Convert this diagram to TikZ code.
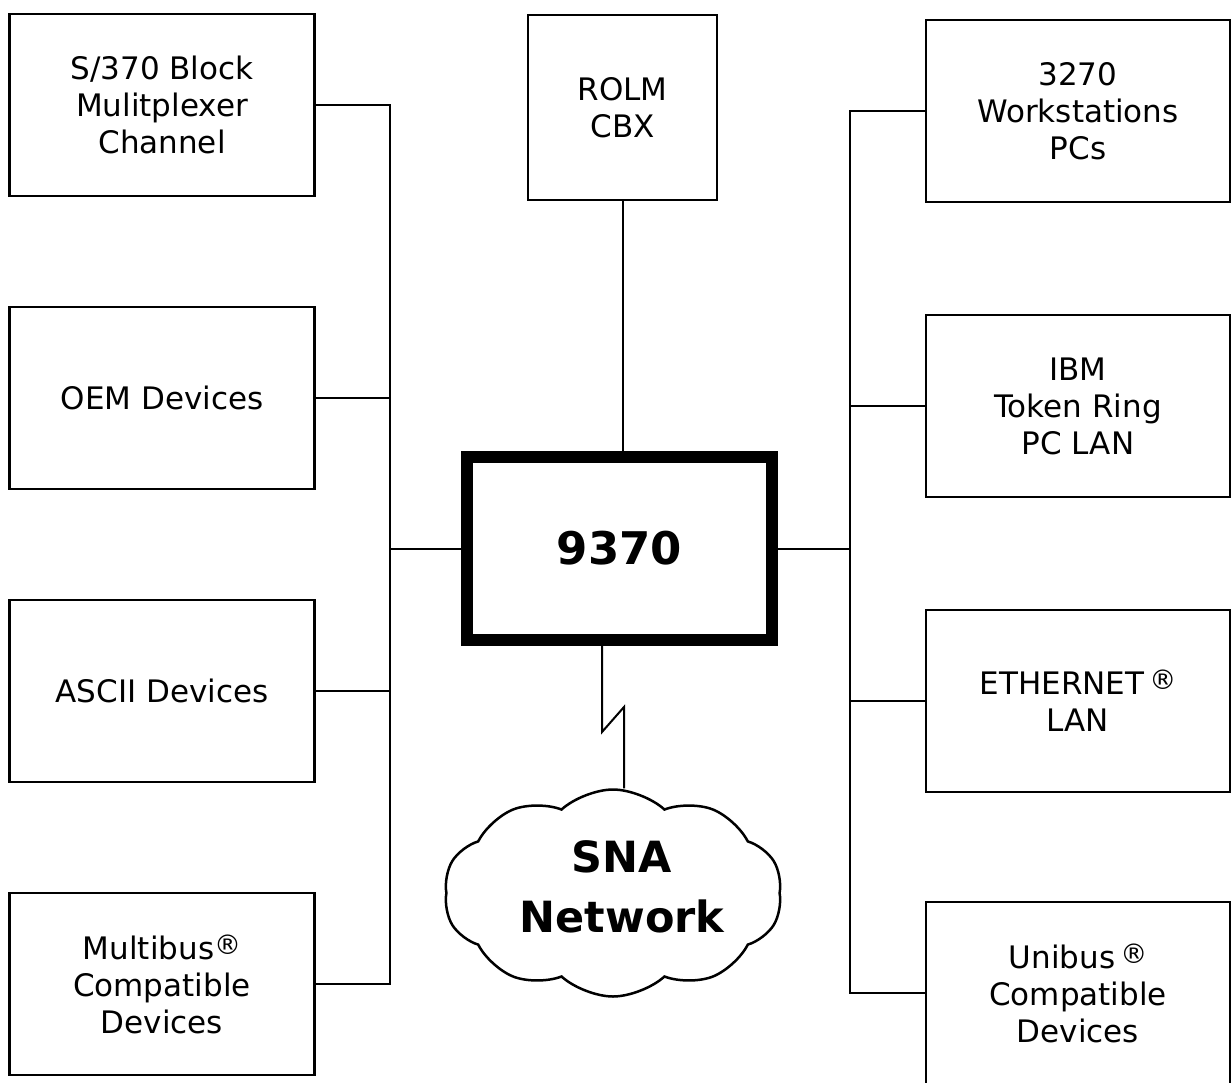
\documentclass[tikz,border=0pt]{standalone}
\usepackage{fontspec}
\setmainfont{DejaVu Sans}
\usetikzlibrary{shapes.symbols}
\newcommand{\regmark}{\raisebox{5pt}{\fontsize{27}{27}\selectfont ®}}

\begin{document}
\begin{tikzpicture}[x=1pt, y=-1pt,
    dev/.style={draw, line width=2.7pt, minimum width=305pt, minimum height=182pt,
        inner sep=0pt, align=center, font=\fontsize{31}{37}\selectfont},
    wire/.style={line width=2pt}]
    \useasboundingbox (0,0) rectangle (1231,1082);
    \coordinate (lbus) at (390,548.5);
    \coordinate (rbus) at (850,548.5);
    \foreach \y/\txt [count=\i] in {105/{S/370 Block\\Mulitplexer\\Channel}, 398/{OEM Devices},
            691/{ASCII Devices}, 984/{Multibus\regmark\\Compatible\\Devices}} {
        \node [dev] (l\i) at (162,\y) {\txt};
        \draw [wire] (l\i) -| (lbus);
    }
    \foreach \y/\txt [count=\i] in {111/{3270\\Workstations\\PCs}, 406/{IBM\\Token Ring\\PC LAN},
            701/{ETHERNET\,\regmark\\LAN}, 993/{Unibus\,\regmark\\Compatible\\Devices}} {
        \node [dev, minimum width=304pt] (r\i) at (1078,\y) {\txt};
        \draw [wire] (r\i) -| (rbus);
    }
    \node [dev, minimum width=189pt, minimum height=185pt] (rolm) at (622.5,107.5) {ROLM\\CBX};
    \node [dev, line width=12pt, minimum height=183pt,
        font=\bfseries\fontsize{45}{50}\selectfont] (cpu) at (619.5,548.5) {9370};
    \node [cloud, draw, line width=2.5pt, cloud puffs=10, cloud puff arc=85,
        minimum width=338pt, minimum height=207pt] (sna) at (613,893) {};
    \node [font=\bfseries\fontsize{43}{60}\selectfont, align=center] (snatxt) at (622,887) {SNA\\Network};
    \draw [wire] (lbus) -- (cpu);
    \draw [wire] (rbus) -- (cpu);
    \draw [wire] (rolm) -- (rolm |- cpu.north);
    \draw [wire] ([xshift=-17.5pt]cpu.south) -- ++(0,86) -- ++(22,-25) coordinate (zz)
        -- (zz |- sna.north);
\end{tikzpicture}
\end{document}
